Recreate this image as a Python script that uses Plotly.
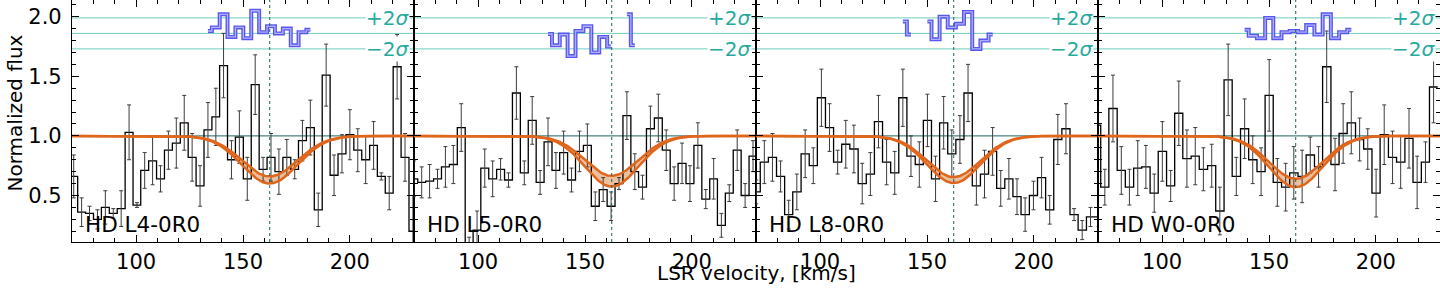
import numpy as np
import plotly.graph_objects as go
from plotly.subplots import make_subplots

# ---------------- data ----------------
panel_labels = ["HD L4-0R0", "HD L5-0R0", "HD L8-0R0", "HD W0-0R0"]

centers_1 = [70.8, 74.5, 78.2, 81.9, 85.6, 89.3, 93.0, 96.7, 100.4, 104.0, 107.7, 111.4, 115.1, 118.8,
             122.5, 126.2, 129.9, 133.6, 137.3, 140.9, 144.6, 148.3, 152.0, 155.7, 159.4, 163.1, 166.8,
             170.5, 174.2, 177.8, 181.5, 185.2, 188.9, 192.6, 196.3, 200.0, 203.7, 207.4, 211.1, 214.7,
             218.4, 222.1, 225.8, 229.5]
flux_1 = [0.66, 0.36, 0.35, 0.30, 0.40, 0.35, 0.39, 1.03, 0.42, 0.71, 0.79, 0.64, 0.88, 0.94, 1.11, 0.82,
          0.58, 1.05, 1.16, 1.59, 0.80, 0.99, 0.64, 1.43, 0.72, 0.82, 0.70, 0.82, 0.72, 0.96, 1.07, 0.38,
          1.51, 0.67, 0.85, 1.01, 0.88, 0.80, 0.92, 0.66, 0.52, 1.58, 0.82, 0.20]
err_1 = [0.18, 0.12, 0.06, 0.08, 0.14, 0.04, 0.15, 0.23, 0.02, 0.15, 0.20, 0.11, 0.16, 0.21, 0.23, 0.20,
         0.17, 0.23, 0.24, 0.27, 0.16, 0.22, 0.18, 0.25, 0.10, 0.20, 0.19, 0.15, 0.08, 0.17, 0.23, 0.14,
         0.26, 0.17, 0.16, 0.21, 0.18, 0.20, 0.20, 0.03, 0.14, 0.27, 0.20, 0.30]

centers_2 = [69.9, 73.6, 77.3, 81.0, 84.7, 88.4, 92.1, 95.8, 99.5, 103.1, 106.8, 110.5, 114.2, 117.9,
             121.6, 125.3, 129.0, 132.7, 136.4, 140.0, 143.7, 147.4, 151.1, 154.8, 158.5, 162.2, 165.9,
             169.6, 173.3, 176.9, 180.6, 184.3, 188.0, 191.7, 195.4, 199.1, 202.8, 206.5, 210.2, 213.8,
             217.5, 221.2, 224.9, 228.6]
flux_2 = [0.64, 0.61, 0.62, 0.64, 0.74, 0.76, 1.07, 0.05, 0.21, 0.73, 0.64, 0.72, 0.63, 1.36, 0.69, 1.13,
          0.61, 0.95, 0.71, 0.86, 0.63, 0.87, 0.92, 0.41, 0.55, 0.41, 0.60, 1.17, 0.70, 0.57, 1.06, 1.15,
          0.88, 0.60, 0.77, 0.60, 0.92, 0.47, 0.64, 0.25, 0.52, 0.88, 0.50, 0.83]
err_2 = [0.15, 0.13, 0.14, 0.08, 0.17, 0.16, 0.20, 0.10, 0.16, 0.16, 0.15, 0.09, 0.06, 0.22, 0.10, 0.20,
         0.10, 0.20, 0.15, 0.18, 0.10, 0.17, 0.18, 0.12, 0.10, 0.12, 0.05, 0.20, 0.15, 0.10, 0.19, 0.20,
         0.17, 0.14, 0.17, 0.15, 0.19, 0.08, 0.17, 0.10, 0.07, 0.17, 0.10, 0.13]

centers_3 = [70.1, 73.9, 77.7, 81.5, 85.3, 89.1, 93.0, 96.8, 100.6, 104.4, 108.2, 112.0, 115.8, 119.7,
             123.5, 127.3, 131.1, 134.9, 138.7, 142.5, 146.4, 150.2, 154.0, 157.8, 161.6, 165.4, 169.2,
             173.1, 176.9, 180.7, 184.5, 188.3, 192.1, 195.9, 199.8, 203.6, 207.4, 211.2, 215.0, 218.8,
             222.6, 226.5, 230.3]
flux_3 = [0.53, 0.78, 0.82, 0.66, 0.34, 0.53, 0.85, 0.75, 1.32, 1.07, 0.78, 0.93, 0.89, 0.60, 0.68, 1.12,
          0.78, 0.69, 1.32, 0.83, 0.76, 1.13, 0.64, 1.11, 0.85, 0.97, 1.36, 0.58, 0.68, 0.87, 0.56, 0.64,
          0.49, 0.34, 0.50, 0.65, 0.38, 0.97, 1.06, 0.34, 0.21, 0.32, 0.32]
err_3 = [0.10, 0.18, 0.20, 0.13, 0.12, 0.15, 0.20, 0.15, 0.24, 0.20, 0.10, 0.20, 0.20, 0.17, 0.18, 0.22,
         0.19, 0.18, 0.24, 0.17, 0.19, 0.22, 0.19, 0.22, 0.20, 0.20, 0.24, 0.16, 0.20, 0.20, 0.15, 0.17,
         0.15, 0.14, 0.12, 0.17, 0.12, 0.21, 0.21, 0.05, 0.08, 0.08, 0.08]

centers_4 = [69.4, 73.2, 77.0, 80.9, 84.7, 88.6, 92.4, 96.3, 100.1, 104.0, 107.8, 111.6, 115.5, 119.3,
             123.2, 127.0, 130.9, 134.7, 138.6, 142.4, 146.3, 150.1, 153.9, 157.8, 161.6, 165.5, 169.3,
             173.2, 177.0, 180.9, 184.7, 188.5, 192.4, 196.2, 200.1, 203.9, 207.8, 211.6, 215.5, 219.3,
             223.2, 227.0]
flux_4 = [1.09, 0.57, 1.23, 0.71, 0.57, 0.73, 0.74, 0.52, 0.87, 0.58, 1.19, 0.81, 0.83, 0.72, 0.75, 0.37,
          1.47, 0.66, 1.06, 0.80, 0.70, 1.34, 0.61, 0.57, 0.69, 0.66, 0.84, 0.74, 1.58, 0.76, 1.02, 1.11,
          0.97, 0.89, 0.52, 1.01, 0.82, 0.78, 0.98, 0.61, 0.78, 1.41]
err_4 = [0.15, 0.15, 0.28, 0.20, 0.15, 0.23, 0.18, 0.16, 0.25, 0.13, 0.27, 0.24, 0.24, 0.18, 0.18, 0.20,
         0.30, 0.16, 0.25, 0.20, 0.20, 0.30, 0.20, 0.20, 0.22, 0.22, 0.15, 0.17, 0.30, 0.22, 0.25, 0.26,
         0.18, 0.17, 0.20, 0.25, 0.22, 0.22, 0.25, 0.22, 0.17, 0.30]

bin_widths = [3.69, 3.69, 3.81, 3.85]

# residual strips (plotted around 1.86, +/-2 sigma at 1.99 / 1.73), first bin index + values
resid_start = [17, 17, 18, 18]
resid_1 = [1.88, 1.91, 2.02, 1.83, 1.91, 1.82, 2.05, 1.87, 1.92, 1.86, 1.90, 1.76, 1.87, 1.89]
resid_2 = [1.855, 1.76, 1.85, 1.67, 1.88, 1.92, 1.70, 1.83, 1.75, None, 2.02, 1.76]
resid_3 = [1.96, 1.85, None, 1.96, 1.81, 2.00, 1.91, 1.94, 2.04, 1.73, 1.80, 1.85]
resid_4 = [1.89, 1.84, 1.82, 1.99, 1.82, 1.87, 1.88, 1.87, 1.93, 1.85, 2.02, 1.82, 1.87, 1.89]

# absorption model parameters (Gaussian profile): centre, depth, depth uncertainty, width
line_center = 162.5
model_depth = [0.37, 0.38, 0.37, 0.395]
model_depth_err = [0.03, 0.045, 0.025, 0.035]
model_sigma = [13.0, 12.5, 12.5, 12.5]

sigma_levels = [1.99, 1.86, 1.73]
x_ticks = [100, 150, 200]

# ---------------- figure ----------------
centers = [centers_1, centers_2, centers_3, centers_4]
fluxes = [flux_1, flux_2, flux_3, flux_4]
errs = [err_1, err_2, err_3, err_4]
resids = [resid_1, resid_2, resid_3, resid_4]

FONT = "DejaVu Sans"
ORANGE = "#e0661c"
TEAL_LIGHT = "rgb(110,205,190)"
TEAL_TEXT = "rgb(38,170,158)"
TEAL_DARK = "rgb(28,100,92)"

fig = make_subplots(rows=1, cols=4, shared_yaxes=True, horizontal_spacing=0)

vgrid = np.linspace(70, 230, 481)

for p in range(4):
    col = p + 1
    c = np.array(centers[p])
    w = bin_widths[p]
    prof = np.exp(-(vgrid - line_center) ** 2 / (2 * model_sigma[p] ** 2))
    lo = 1 - (model_depth[p] + model_depth_err[p]) * prof
    hi = 1 - (model_depth[p] - model_depth_err[p]) * prof
    fig.add_trace(go.Scatter(x=vgrid, y=hi, mode="lines", line=dict(width=0, color=ORANGE),
                             showlegend=False, hoverinfo="skip"), row=1, col=col)
    fig.add_trace(go.Scatter(x=vgrid, y=lo, mode="lines", line=dict(width=0, color=ORANGE),
                             fill="tonexty", fillcolor="rgba(222,150,95,0.6)",
                             showlegend=False, hoverinfo="skip"), row=1, col=col)
    xe = list(c - w / 2) + [c[-1] + w / 2]
    ye = list(fluxes[p]) + [fluxes[p][-1]]
    fig.add_trace(go.Scatter(x=xe, y=ye, mode="lines", line=dict(color="black", width=1.3, shape="hv"),
                             showlegend=False), row=1, col=col)
    fig.add_trace(go.Scatter(x=c, y=fluxes[p], mode="markers",
                             marker=dict(size=1, color="rgba(0,0,0,0)"),
                             error_y=dict(type="data", array=errs[p], color="#3c3c3c", thickness=1, width=2),
                             showlegend=False), row=1, col=col)
    fig.add_trace(go.Scatter(x=vgrid, y=hi, mode="lines", line=dict(width=2.5, color=ORANGE),
                             showlegend=False, hoverinfo="skip"), row=1, col=col)
    fig.add_trace(go.Scatter(x=vgrid, y=lo, mode="lines", line=dict(width=2.5, color=ORANGE),
                             showlegend=False, hoverinfo="skip"), row=1, col=col)
    s = resid_start[p]
    rx = c[s:s + len(resids[p])]
    fig.add_trace(go.Scatter(x=rx, y=resids[p], mode="lines", line=dict(color="rgb(88,88,238)", width=4, shape="hvh"),
                             connectgaps=False, showlegend=False), row=1, col=col)
    fig.add_trace(go.Scatter(x=rx, y=resids[p], mode="lines", line=dict(color="rgb(175,175,250)", width=1.3, shape="hvh"),
                             connectgaps=False, showlegend=False), row=1, col=col)

    xr = "x" if col == 1 else f"x{col}"
    fig.add_shape(type="line", xref=xr, yref="paper", x0=line_center, x1=line_center, y0=0, y1=1,
                  line=dict(color=TEAL_DARK, width=1, dash="dot"), layer="above")
    fig.add_annotation(xref=xr, yref="y", x=75.3, y=0.255, text=panel_labels[p], showarrow=False,
                       xanchor="left", yanchor="middle", font=dict(family=FONT, size=21.5, color="black"))
    fig.add_annotation(xref=xr, yref="y", x=228.3, y=sigma_levels[0], text="+2<i>σ</i>", showarrow=False,
                       xanchor="right", yanchor="middle", bgcolor="white", borderpad=0,
                       font=dict(family=FONT, size=20, color=TEAL_TEXT))
    fig.add_annotation(xref=xr, yref="y", x=228.3, y=sigma_levels[2], text="−2<i>σ</i>", showarrow=False,
                       xanchor="right", yanchor="middle", bgcolor="white", borderpad=0,
                       font=dict(family=FONT, size=20, color=TEAL_TEXT))

for lv in sigma_levels:
    fig.add_shape(type="line", xref="paper", yref="y", x0=0, x1=1, y0=lv, y1=lv,
                  line=dict(color=TEAL_LIGHT, width=1), layer="below")
fig.add_shape(type="line", xref="paper", yref="y", x0=0, x1=1, y0=1.0, y1=1.0,
              line=dict(color=TEAL_DARK, width=1), layer="below")

fig.update_xaxes(range=[70, 230], tickmode="array", tickvals=x_ticks, ticks="inside", ticklen=7,
                 tickwidth=1, tickcolor="black", showline=True, linecolor="black", linewidth=1.2,
                 mirror="ticks", showgrid=False, zeroline=False,
                 minor=dict(tickmode="linear", tick0=0, dtick=10, ticks="inside", ticklen=3.5,
                            tickcolor="black", showgrid=False),
                 tickfont=dict(family=FONT, size=21, color="black"), ticklabelstandoff=1)
fig.update_yaxes(range=[0.11, 2.14], tick0=0, dtick=0.5, tickformat=".1f", ticks="inside", ticklen=7,
                 tickwidth=1, tickcolor="black", showline=True, linecolor="black", linewidth=1.2,
                 mirror="ticks", showgrid=False, zeroline=False,
                 minor=dict(tick0=0, dtick=0.1, ticks="inside", ticklen=3.5, tickcolor="black", showgrid=False),
                 tickfont=dict(family=FONT, size=21, color="black"), ticklabelstandoff=5)

fig.add_annotation(xref="paper", yref="paper", x=0.5, y=-0.13, text="LSR velocity, [km/s]", showarrow=False,
                   xanchor="center", yanchor="middle", font=dict(family=FONT, size=20, color="black"))
fig.add_annotation(xref="paper", yref="paper", x=-0.0417, y=0.535, text="Normalized flux", showarrow=False,
                   textangle=-90, xanchor="center", yanchor="middle", font=dict(family=FONT, size=20, color="black"))

fig.update_layout(width=1440, height=288, margin=dict(l=72, r=0, t=0, b=46),
                  plot_bgcolor="white", paper_bgcolor="white", showlegend=False)

fig.write_html("out.html", config={"displayModeBar": False},
               post_script="document.body.style.margin='0';document.body.style.overflow='hidden';")
